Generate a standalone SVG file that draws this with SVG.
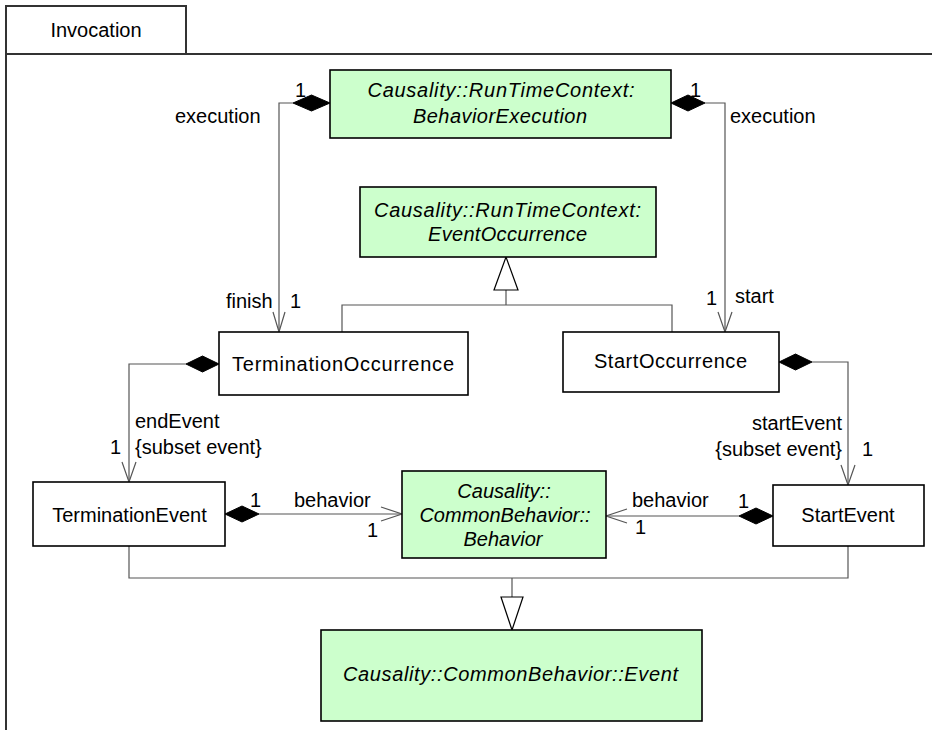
<svg xmlns="http://www.w3.org/2000/svg" width="932" height="730" viewBox="0 0 932 730">
<style>
text{font-family:"Liberation Sans",Arial,sans-serif;font-size:20px;fill:#000}
.it{font-style:italic}
.c{text-anchor:middle}
.e{text-anchor:end}
.frame{fill:none;stroke:#333;stroke-width:2}
.box{fill:#fff;stroke:#000;stroke-width:1.6}
.gbox{fill:#ccffcc;stroke:#000;stroke-width:1.6}
.ln{fill:none;stroke:#555;stroke-width:1.2}
.dia{fill:#000;stroke:#000;stroke-width:1}
.tri{fill:#fff;stroke:#000;stroke-width:1.2}
</style>
<rect width="932" height="730" fill="#fff"/>
<g id="frame">
<rect class="frame" x="6" y="6" width="180" height="48" fill="#fff"/>
<path class="frame" d="M6,54 H932 M6,54 V730"/>
<text class="c" x="96" y="37">Invocation</text>
</g>
<g id="connectors">
<path class="ln" d="M293,103 H279 V332"/>
<path class="ln" d="M273,312 L279,332 L285,312"/>
<polygon class="dia" points="293,103 311.5,95 330,103 311.5,111"/>
<text x="175" y="123">execution</text>
<text x="295" y="97">1</text>
<text x="226" y="308">finish</text>
<text x="290" y="308">1</text>

<path class="ln" d="M705,103 H725 V332"/>
<path class="ln" d="M718,312 L725,332 L732,312"/>
<polygon class="dia" points="671,103 688,95 705,103 688,111"/>
<text x="730" y="123">execution</text>
<text x="690" y="97">1</text>
<text x="706" y="305">1</text>
<text x="735" y="303">start</text>

<path class="ln" d="M342,332 V305 H672 V332 M506,305 V290"/>
<polygon class="tri" points="494,290 506,257 518,290"/>

<path class="ln" d="M186,364 H129 V482"/>
<path class="ln" d="M122,462 L129,482 L136,462"/>
<polygon class="dia" points="219,364 202.5,356 186,364 202.5,372"/>
<text x="135" y="428">endEvent</text>
<text x="135" y="454">{subset event}</text>
<text x="110" y="454">1</text>

<path class="ln" d="M812,362 H848 V485"/>
<path class="ln" d="M841,465 L848,485 L855,465"/>
<polygon class="dia" points="779,362 795.5,354 812,362 795.5,370"/>
<text class="e" x="842" y="430">startEvent</text>
<text class="e" x="842" y="456">{subset event}</text>
<text x="862" y="456">1</text>

<path class="ln" d="M259,514 H402"/>
<path class="ln" d="M381,507 L402,514 L381,521"/>
<polygon class="dia" points="225,514 242,506 259,514 242,522"/>
<text x="250" y="507">1</text>
<text x="294" y="507">behavior</text>
<text x="367" y="537">1</text>

<path class="ln" d="M739,516 H606"/>
<path class="ln" d="M627,509 L606,516 L627,523"/>
<polygon class="dia" points="773,516 756,508 739,516 756,524"/>
<text x="738" y="508">1</text>
<text x="632" y="507">behavior</text>
<text x="635" y="534">1</text>

<path class="ln" d="M129,546 V578 H848 V546 M512,578 V597"/>
<polygon class="tri" points="501,597 523,597 512,630"/>
</g>
<g id="BehaviorExecution">
<rect class="gbox" x="330" y="70" width="341" height="68"/>
<text class="c it" x="501" y="97" textLength="267" lengthAdjust="spacing">Causality::RunTimeContext:</text>
<text class="c it" x="500" y="123" textLength="174" lengthAdjust="spacing">BehaviorExecution</text>
</g>
<g id="EventOccurrence">
<rect class="gbox" x="360" y="187" width="296" height="70"/>
<text class="c it" x="507.5" y="217" textLength="267" lengthAdjust="spacing">Causality::RunTimeContext:</text>
<text class="c it" x="507.5" y="241" textLength="159" lengthAdjust="spacing">EventOccurrence</text>
</g>
<g id="TerminationOccurrence">
<rect class="box" x="219" y="332" width="249" height="63"/>
<text class="c" x="343" y="371" textLength="222" lengthAdjust="spacing">TerminationOccurrence</text>
</g>
<g id="StartOccurrence">
<rect class="box" x="563" y="332" width="216" height="60"/>
<text class="c" x="670.5" y="368" textLength="153" lengthAdjust="spacing">StartOccurrence</text>
</g>
<g id="TerminationEvent">
<rect class="box" x="33" y="482" width="192" height="64"/>
<text class="c" x="129.5" y="522">TerminationEvent</text>
</g>
<g id="Behavior">
<rect class="gbox" x="402" y="471" width="204" height="87"/>
<text class="c it" x="504" y="498">Causality::</text>
<text class="c it" x="505" y="522">CommonBehavior::</text>
<text class="c it" x="503" y="546">Behavior</text>
</g>
<g id="StartEvent">
<rect class="box" x="773" y="485" width="151" height="61"/>
<text class="c" x="848" y="522">StartEvent</text>
</g>
<g id="Event">
<rect class="gbox" x="321" y="630" width="381" height="91"/>
<text class="c it" x="510.5" y="681" textLength="335" lengthAdjust="spacing">Causality::CommonBehavior::Event</text>
</g>
</svg>
